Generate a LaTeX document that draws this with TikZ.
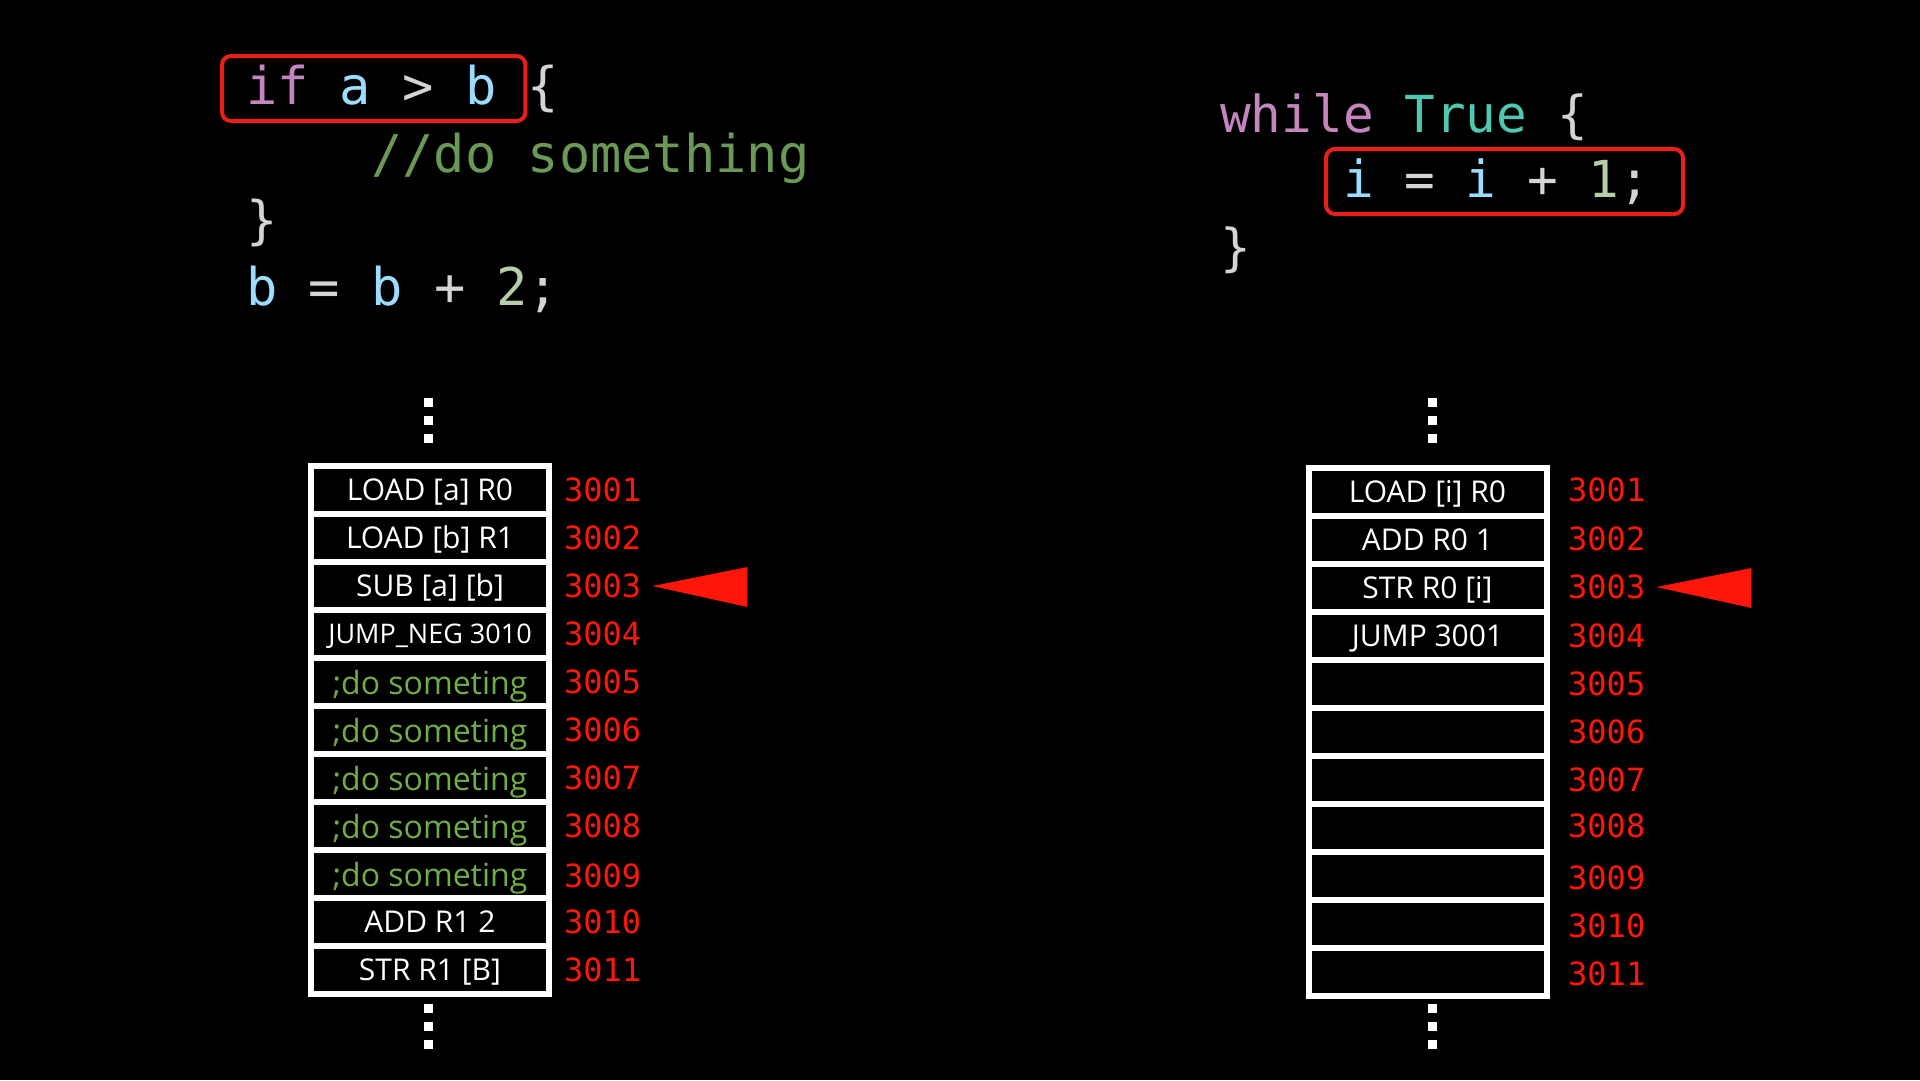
\documentclass[tikz,border=0pt]{standalone}
\usepackage{fontspec}
\usepackage{xcolor}
\usepackage{tikz}
\newfontfamily\codefont{DejaVu Sans Mono}
\newfontfamily\cellfont{Open Sans}
\definecolor{kwpink}{RGB}{197,134,192}
\definecolor{varblue}{RGB}{156,220,254}
\definecolor{opgrey}{RGB}{212,212,212}
\definecolor{numgreen}{RGB}{181,206,168}
\definecolor{comgreen}{RGB}{106,153,85}
\definecolor{typeteal}{RGB}{78,201,176}
\definecolor{memred}{RGB}{255,22,10}
\definecolor{boxred}{RGB}{235,30,25}
\definecolor{asmgreen}{RGB}{112,173,71}

\begin{document}
\begin{tikzpicture}[x=1pt,y=-1pt,
  code/.style={anchor=base west, inner sep=0pt, text=opgrey, font=\codefont\fontsize{52}{60}\selectfont},
  rightcode/.style={code, font=\codefont\fontsize{51}{60}\selectfont},
  codebox/.style={draw=boxred, line width=4pt, rounded corners=9pt, inner ysep=10pt, text height=38pt, text depth=7pt},
  memcell/.style={rectangle, draw=white, fill=black, line width=6pt, minimum width=238pt, minimum height=48pt, inner sep=0pt, text height=21pt, text depth=0pt, text=white, font=\cellfont\fontsize{30}{32}\selectfont},
  asmnote/.style={memcell, text=asmgreen, text height=24pt, font=\cellfont\fontsize{32}{34}\selectfont},
  addr/.style={anchor=west, inner sep=0pt, text height=23pt, text depth=0pt, text=memred, font=\codefont\fontsize{32}{34}\selectfont},
  vdots/.style={inner sep=0pt, align=center, text=white, font=\fontsize{9}{18}\selectfont}]
\fill[black] (0,0) rectangle (1920,1080);
\node at (220,104) [code, codebox, inner xsep=24pt] (cond) {\textcolor{kwpink}{if} \textcolor{varblue}{a} > \textcolor{varblue}{b}\hspace*{5pt}};
\node at (cond.base east) [code] (condbrace) {\{};
\node at (371,172) [code, text=comgreen] (comment) {//do something};
\node at (246,238) [code] (closel) {\}};
\node at (246,305) [code] (update) {\textcolor{varblue}{b} = \textcolor{varblue}{b} + \textcolor{numgreen}{2};};
\node at (1220,132) [rightcode] (loop) {\textcolor{kwpink}{while} \textcolor{typeteal}{True} \{};
\node at (1324,197) [rightcode, codebox, inner xsep=17pt] (body) {\textcolor{varblue}{i} = \textcolor{varblue}{i} + \textcolor{numgreen}{1};\hspace*{16pt}};
\node at (1220,265) [rightcode] (closer) {\}};
\node at (428,420) [vdots] (dotstopl) {\rule{9pt}{9pt}\\\rule{9pt}{9pt}\\\rule{9pt}{9pt}};
\node at (428,1026) [vdots] (dotsbotl) {\rule{9pt}{9pt}\\\rule{9pt}{9pt}\\\rule{9pt}{9pt}};
\node at (1432,420) [vdots] (dotstopr) {\rule{9pt}{9pt}\\\rule{9pt}{9pt}\\\rule{9pt}{9pt}};
\node at (1432,1026) [vdots] (dotsbotr) {\rule{9pt}{9pt}\\\rule{9pt}{9pt}\\\rule{9pt}{9pt}};
\node at (430,490) [memcell] (loada) {LOAD [a] R0};
\node at (430,538) [memcell] (loadb) {LOAD [b] R1};
\node at (430,586) [memcell] (sub) {SUB [a] [b]};
\node at (430,634) [memcell, text height=19pt, font=\cellfont\fontsize{27}{30}\selectfont] (jumpneg) {JUMP\_NEG 3010};
\node at (430,682) [asmnote] (do1) {;do someting};
\node at (430,730) [asmnote] (do2) {;do someting};
\node at (430,778) [asmnote] (do3) {;do someting};
\node at (430,826) [asmnote] (do4) {;do someting};
\node at (430,874) [asmnote] (do5) {;do someting};
\node at (430,922) [memcell] (addb) {ADD R1 2};
\node at (430,970) [memcell] (strb) {STR R1 [B]};
\node at (564,490) [addr] (numl1) {3001};
\node at (564,538) [addr] (numl2) {3002};
\node at (564,586) [addr] (numl3) {3003};
\node at (564,634) [addr] (numl4) {3004};
\node at (564,682) [addr] (numl5) {3005};
\node at (564,730) [addr] (numl6) {3006};
\node at (564,778) [addr] (numl7) {3007};
\node at (564,826) [addr] (numl8) {3008};
\node at (564,876) [addr] (numl9) {3009};
\node at (564,922) [addr] (numl10) {3010};
\node at (564,970) [addr] (numl11) {3011};
\node at (1427.5,492) [memcell] (loadi) {LOAD [i] R0};
\node at (1427.5,540) [memcell] (addi) {ADD R0 1};
\node at (1427.5,588) [memcell] (stri) {STR R0 [i]};
\node at (1427.5,636) [memcell] (jump) {JUMP 3001};
\node at (1427.5,684) [memcell] (free5) {};
\node at (1427.5,732) [memcell] (free6) {};
\node at (1427.5,780) [memcell] (free7) {};
\node at (1427.5,828) [memcell] (free8) {};
\node at (1427.5,876) [memcell] (free9) {};
\node at (1427.5,924) [memcell] (free10) {};
\node at (1427.5,972) [memcell] (free11) {};
\node at (1568,490) [addr] (numr1) {3001};
\node at (1568,539) [addr] (numr2) {3002};
\node at (1568,587) [addr] (numr3) {3003};
\node at (1568,636) [addr] (numr4) {3004};
\node at (1568,684) [addr] (numr5) {3005};
\node at (1568,732) [addr] (numr6) {3006};
\node at (1568,780) [addr] (numr7) {3007};
\node at (1568,826) [addr] (numr8) {3008};
\node at (1568,878) [addr] (numr9) {3009};
\node at (1568,926) [addr] (numr10) {3010};
\node at (1568,974) [addr] (numr11) {3011};
\fill[memred] ([xshift=11pt]numl3.east) -- ++(95,-19) -- ++(0,40) -- cycle;
\fill[memred] ([xshift=11pt]numr3.east) -- ++(95,-19) -- ++(0,40) -- cycle;
\end{tikzpicture}
\end{document}
